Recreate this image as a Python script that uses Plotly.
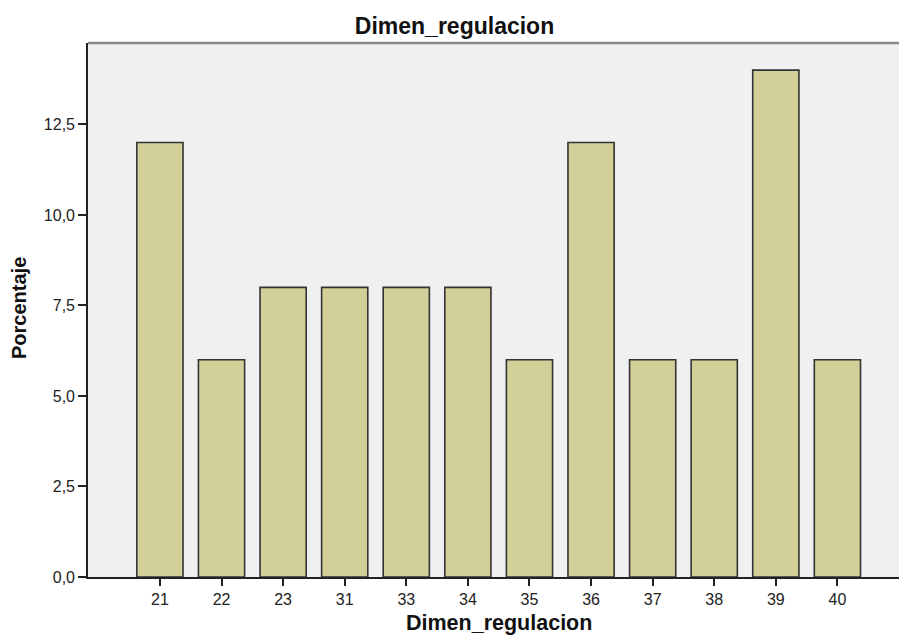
import plotly.graph_objects as go

categories = ["21", "22", "23", "31", "33", "34", "35", "36", "37", "38", "39", "40"]
percentages = [12, 6, 8, 8, 8, 8, 6, 12, 6, 6, 14, 6]
y_ticks = [0, 2.5, 5, 7.5, 10, 12.5]
title_text = "Dimen_regulacion"
x_title = "Dimen_regulacion"
y_title = "Porcentaje"

FONT = "Liberation Sans, Arial, sans-serif"

fig = go.Figure(
    go.Bar(
        x=categories,
        y=percentages,
        marker=dict(color="#d3cf98", line=dict(color="#333333", width=1.6)),
        hoverinfo="x+y",
    )
)

fig.update_layout(
    width=899,
    height=637,
    margin=dict(l=88, r=0, t=43, b=60),
    paper_bgcolor="white",
    plot_bgcolor="#f0f0f0",
    separators=",.",
    bargap=0.25,
    showlegend=False,
    font=dict(family=FONT, color="#222222"),
    title=dict(
        text="<b>" + title_text + "</b>",
        font=dict(family=FONT, size=23, color="#111111"),
        x=0.5056,
        xanchor="center",
        xref="container",
        y=1 - 26 / 637,
        yanchor="middle",
        yref="container",
    ),
    annotations=[
        dict(
            text="<b>" + x_title + "</b>",
            xref="paper", yref="paper",
            x=(498.5 - 88) / 811, y=(577 - 623) / 534,
            xanchor="center", yanchor="middle",
            showarrow=False,
            font=dict(family=FONT, size=21.5, color="#111111"),
        ),
        dict(
            text="<b>" + y_title + "</b>",
            xref="paper", yref="paper",
            x=(19 - 88) / 811, y=(577 - 308) / 534,
            xanchor="center", yanchor="middle",
            textangle=-90,
            showarrow=False,
            font=dict(family=FONT, size=20, color="#111111"),
        ),
    ],
    shapes=[
        dict(
            type="line", xref="paper", yref="paper",
            x0=0, x1=1, y0=1, y1=1,
            line=dict(color="#8a8a8a", width=2.5),
        )
    ],
)

fig.update_xaxes(
    type="category",
    range=[-1.168, 12.0],
    showline=True,
    linecolor="#222222",
    linewidth=1.6,
    ticks="outside",
    ticklen=7,
    tickwidth=1.6,
    tickcolor="#222222",
    tickfont=dict(family=FONT, size=16, color="#222222"),
    showgrid=False,
    zeroline=False,
)

fig.update_yaxes(
    range=[0, 14.75],
    tickvals=y_ticks,
    tickformat=".1f",
    showline=True,
    linecolor="#222222",
    linewidth=1.6,
    ticks="outside",
    ticklen=8,
    tickwidth=1.6,
    tickcolor="#222222",
    tickfont=dict(family=FONT, size=16, color="#222222"),
    showgrid=False,
    zeroline=False,
)

fig.write_html(
    "out.html",
    config={"displayModeBar": False},
    post_script="document.body.style.margin='0';document.body.style.padding='0';document.body.style.overflow='hidden';",
)
